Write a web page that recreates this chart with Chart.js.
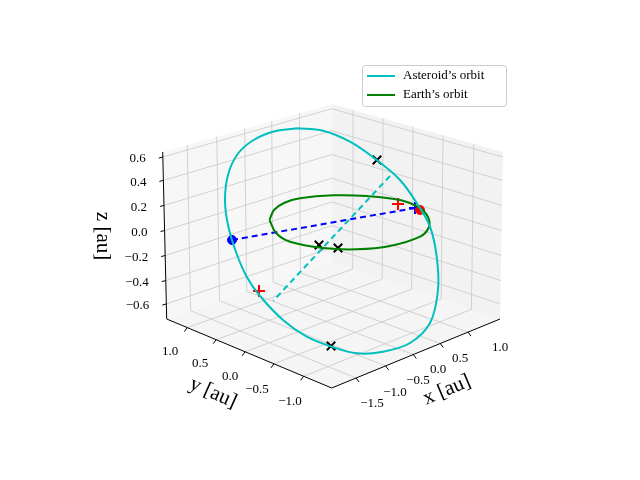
<!DOCTYPE html>
<html>
<head>
<meta charset="utf-8">
<script src="https://cdn.jsdelivr.net/npm/chart.js@4/dist/chart.umd.min.js"></script>
<style>body{margin:0;background:#fff}</style>
</head>
<body>
<canvas id="c" width="640" height="480"></canvas>
<script>
// Projected 3D view, values in screen units (0..640, 0..480)
const asteroidX = [296.7, 273, 252, 237, 228, 225, 228, 236, 246.7, 260, 283, 306.7, 331.7, 356.7, 383, 410, 430, 438, 436.7, 430, 416.7, 400, 376.7, 350, 323, 296.7];
const asteroidY = [128.3, 131.7, 141, 155, 175, 200, 225, 252, 276.7, 296, 320, 336.7, 346.7, 353.3, 351.7, 343, 323, 290, 256.7, 226.7, 203, 180, 160, 141.7, 130.7, 128.3];
const earthX = [269.5, 274, 284, 300, 333.3, 366.7, 400, 420, 428, 429, 420, 390, 356.7, 323.3, 290, 276, 269.5];
const earthY = [220, 210, 203, 198.3, 195.3, 196, 200, 208, 217, 227, 236.7, 246, 249.3, 248, 241.7, 233, 220];
const blueLineX = [232, 415], blueLineY = [240, 208];
const cyanLineX = [390, 273.3], cyanLineY = [176, 300.7];
const crossX = [377, 319, 338, 331], crossY = [160, 245, 248, 346];
const redPlusX = [398, 259], redPlusY = [204, 291];

// box corners: left-top, back-top, right-top, left-bottom, back-bottom, right-bottom, front-bottom
const box = { LT: [162.7, 152], BT: [331.7, 104], RT: [503, 152], LB: [166.7, 319], BB: [331.7, 262], RB: [500, 319], FB: [331.7, 388] };
const leftWallGrid = [0.145, 0.32, 0.485, 0.645, 0.81];
const rightWallGrid = [0.125, 0.30, 0.475, 0.65, 0.83];
const zGrid = [0.03, 0.17, 0.32, 0.47, 0.62, 0.77, 0.91];
const zTicks = ['0.6', '0.4', '0.2', '0.0', '\u22120.2', '\u22120.4', '\u22120.6'];
const xTicks = ['\u22121.5', '\u22121.0', '\u22120.5', '0.0', '0.5', '1.0'];
const xTickPos = [[372, 404], [395, 393], [418, 381], [438, 370], [460, 359], [500, 348]];
const yTicks = ['1.0', '0.5', '0.0', '\u22120.5', '\u22121.0'];
const yTickPos = [[170, 352], [200, 364], [230, 377], [257, 390], [290, 402]];

const pts = (xs, ys) => xs.map((x, i) => ({ x: x, y: ys[i] }));
const lerp = (a, b, t) => [a[0] + (b[0] - a[0]) * t, a[1] + (b[1] - a[1]) * t];
const serif = '"Liberation Serif", "DejaVu Serif", serif';

const boxPlugin = {
  id: 'box',
  beforeDatasetsDraw(chart) {
    const ctx = chart.ctx, sx = chart.scales.x, sy = chart.scales.y;
    const P = p => [sx.getPixelForValue(p[0]), sy.getPixelForValue(p[1])];
    const poly = (list, fill) => {
      ctx.beginPath();
      list.map(P).forEach((p, i) => i ? ctx.lineTo(p[0], p[1]) : ctx.moveTo(p[0], p[1]));
      ctx.closePath(); ctx.fillStyle = fill; ctx.fill();
    };
    const line = (a, b, col, w) => {
      const p = P(a), q = P(b);
      ctx.beginPath(); ctx.moveTo(p[0], p[1]); ctx.lineTo(q[0], q[1]);
      ctx.strokeStyle = col; ctx.lineWidth = w; ctx.stroke();
    };
    ctx.save();
    poly([box.LT, box.BT, box.BB, box.LB], 'rgba(242,242,242,0.6)');
    poly([box.BT, box.RT, box.RB, box.BB], 'rgba(230,230,230,0.5)');
    poly([box.LB, box.BB, box.RB, box.FB], 'rgba(236,236,236,0.5)');
    const g = '#c8c8c8';
    leftWallGrid.forEach(f => {
      line(lerp(box.LT, box.BT, f), lerp(box.LB, box.BB, f), g, 0.8);
      line(lerp(box.LB, box.BB, f), lerp(box.FB, box.RB, f), g, 0.8);
    });
    rightWallGrid.forEach(f => {
      line(lerp(box.BT, box.RT, f), lerp(box.BB, box.RB, f), g, 0.8);
      line(lerp(box.BB, box.RB, f), lerp(box.LB, box.FB, f), g, 0.8);
    });
    zGrid.forEach(f => {
      const l = lerp(box.LT, box.LB, f), b = lerp(box.BT, box.BB, f), r = lerp(box.RT, box.RB, f);
      line(l, b, g, 0.8); line(b, r, g, 0.8);
    });
    line(box.LT, box.LB, '#000', 1);
    line(box.LB, box.FB, '#000', 1);
    line(box.FB, box.RB, '#000', 1);
    zGrid.forEach(f => { const l = lerp(box.LT, box.LB, f); line(l, [l[0] - 4, l[1] + 1], '#000', 1); });
    leftWallGrid.forEach(f => { const p = lerp(box.FB, box.RB, f); line(p, [p[0] + 3, p[1] + 4], '#000', 1); });
    rightWallGrid.forEach(f => { const p = lerp(box.LB, box.FB, f); line(p, [p[0] - 3, p[1] + 4], '#000', 1); });
    ctx.fillStyle = '#000'; ctx.font = '13px ' + serif; ctx.textBaseline = 'middle';
    ctx.textAlign = 'right';
    zGrid.forEach((f, i) => { const l = P(lerp(box.LT, box.LB, f)); ctx.fillText(zTicks[i], l[0] - 17, l[1] + 2); });
    ctx.textAlign = 'center';
    xTicks.forEach((t, i) => { const p = P(xTickPos[i]); ctx.fillText(t, p[0], p[1]); });
    yTicks.forEach((t, i) => { const p = P(yTickPos[i]); ctx.fillText(t, p[0], p[1]); });
    ctx.font = '21px ' + serif;
    const lab = (txt, pos, rot) => {
      const p = P(pos); ctx.save(); ctx.translate(p[0], p[1]); ctx.rotate(rot);
      ctx.fillText(txt, 0, 0); ctx.restore();
    };
    lab('x [au]', [447, 390], -0.4);
    lab('y [au]', [213, 393], 0.42);
    lab('z [au]', [103, 236], Math.PI / 2);
    ctx.restore();
  },
  afterDraw(chart) {
    const ctx = chart.ctx;
    ctx.save();
    ctx.fillStyle = 'rgba(255,255,255,0.8)'; ctx.strokeStyle = '#ccc'; ctx.lineWidth = 1;
    ctx.beginPath(); ctx.roundRect(362.5, 65.5, 144, 41, 3); ctx.fill(); ctx.stroke();
    const items = [['Asteroid\u2019s orbit', '#00bfbf', 76], ['Earth\u2019s orbit', 'green', 95]];
    ctx.font = '13px ' + serif; ctx.textBaseline = 'middle'; ctx.textAlign = 'left'; ctx.fillStyle = '#000';
    items.forEach(it => {
      ctx.beginPath(); ctx.moveTo(367, it[2]); ctx.lineTo(395, it[2]);
      ctx.strokeStyle = it[1]; ctx.lineWidth = 2; ctx.stroke();
      ctx.fillText(it[0], 403, it[2]);
    });
    ctx.restore();
  }
};

new Chart(document.getElementById('c'), {
  type: 'scatter',
  data: {
    datasets: [
      { data: pts(asteroidX, asteroidY), showLine: true, borderColor: '#00bfbf', borderWidth: 2, pointRadius: 0, tension: 0.35 },
      { data: pts(earthX, earthY), showLine: true, borderColor: 'green', borderWidth: 2, pointRadius: 0, tension: 0.35 },
      { data: pts(cyanLineX, cyanLineY), showLine: true, borderColor: '#00bfbf', borderWidth: 2, borderDash: [6, 4], pointRadius: 0 },
      { data: pts(blueLineX, blueLineY), showLine: true, borderColor: 'blue', borderWidth: 2, borderDash: [6, 4], pointRadius: 0 },
      { data: [{ x: blueLineX[0], y: blueLineY[0] }], pointStyle: 'circle', pointRadius: 4.5, backgroundColor: 'blue', borderColor: 'blue' },
      { data: [{ x: 420, y: 210 }], pointStyle: 'circle', pointRadius: 4.5, backgroundColor: 'red', borderColor: 'red' },
      { data: [{ x: blueLineX[1], y: blueLineY[1] }], pointStyle: 'cross', pointRadius: 6, borderColor: 'blue', borderWidth: 2 },
      { data: pts(redPlusX, redPlusY), pointStyle: 'cross', pointRadius: 6, borderColor: 'red', borderWidth: 2 },
      { data: pts(crossX, crossY), pointStyle: 'crossRot', pointRadius: 6, borderColor: 'black', borderWidth: 2 }
    ]
  },
  options: {
    responsive: false, animation: false,
    layout: { padding: 0, autoPadding: false },
    plugins: { legend: { display: false }, tooltip: { enabled: false } },
    scales: {
      x: { type: 'linear', min: 0, max: 640, display: false },
      y: { type: 'linear', min: 0, max: 480, reverse: true, display: false }
    }
  },
  plugins: [boxPlugin]
});
</script>
</body>
</html>
